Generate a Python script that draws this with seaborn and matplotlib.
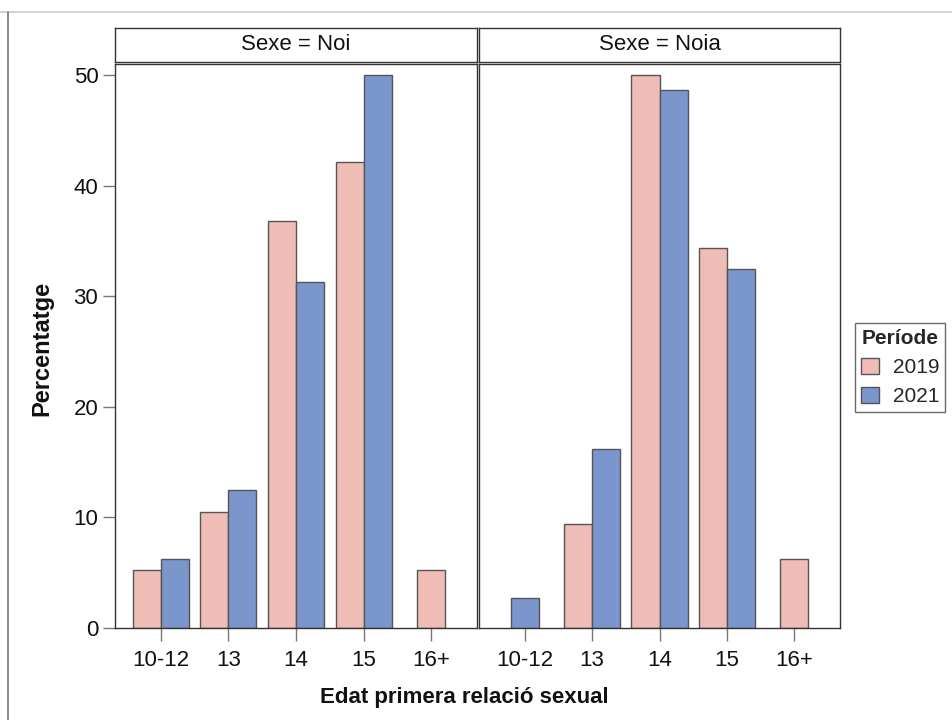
import matplotlib
matplotlib.use("Agg")
import matplotlib.pyplot as plt
import seaborn as sns
import pandas as pd
import numpy as np
from matplotlib.lines import Line2D
from matplotlib.patches import Patch

# ---- data ----
categories = ["10-12", "13", "14", "15", "16+"]
periods = ["2019", "2021"]
sexes = ["Noi", "Noia"]
noi_2019 = [5.26, 10.53, 36.84, 42.11, 5.26]
noi_2021 = [6.25, 12.5, 31.25, 50.0, np.nan]
noia_2019 = [np.nan, 9.375, 50.0, 34.375, 6.25]
noia_2021 = [2.70, 16.22, 48.65, 32.43, np.nan]
y_ticks = [0, 10, 20, 30, 40, 50]

rows = []
for sexe, s19, s21 in [("Noi", noi_2019, noi_2021), ("Noia", noia_2019, noia_2021)]:
    for c, a, b in zip(categories, s19, s21):
        rows.append({"Sexe": sexe, "Edat": c, "Període": "2019", "Pct": a})
        rows.append({"Sexe": sexe, "Edat": c, "Període": "2021", "Pct": b})
df = pd.DataFrame(rows).dropna()
counts = df.groupby(["Sexe", "Edat"])["Pct"].transform("count")
df_pair = df[counts == 2]
df_single = df[counts == 1]

palette = {"2019": "#EFBDB6", "2021": "#7B96CC"}
edge = "#555555"

sns.set_style("white")
plt.rcParams["font.family"] = ["Liberation Sans", "DejaVu Sans"]

W, H = 952, 720
fig = plt.figure(figsize=(W / 100, H / 100), dpi=100)

def fx(px):
    return px / W

def fy(py):
    return 1 - py / H

panels = [(115, 477), (479, 840)]
top, bottom = 64, 628
strip_top, strip_bot = 28, 62
fs = 16

axes = []
for i, (sexe, (x0, x1)) in enumerate(zip(sexes, panels)):
    ax = fig.add_axes([fx(x0), fy(bottom), fx(x1) - fx(x0), fy(top) - fy(bottom)])
    axes.append(ax)
    sns.barplot(data=df_pair[df_pair["Sexe"] == sexe], x="Edat", y="Pct", hue="Període",
                order=categories, hue_order=periods, palette=palette, width=0.83,
                saturation=1, edgecolor=edge, linewidth=1.0, legend=False, ax=ax, errorbar=None)
    sns.barplot(data=df_single[df_single["Sexe"] == sexe], x="Edat", y="Pct", hue="Període",
                order=categories, hue_order=periods, palette=palette, width=0.415,
                saturation=1, dodge=False, edgecolor=edge, linewidth=1.0, legend=False, ax=ax,
                errorbar=None)
    ax.set_xlim(-0.675, 4.675)
    ax.set_ylim(0, 51)
    ax.set_yticks(y_ticks)
    ax.set_xlabel("")
    ax.set_ylabel("")
    for sp in ax.spines.values():
        sp.set_visible(True)
        sp.set_color("#333333")
        sp.set_linewidth(1.0)
    ax.tick_params(axis="x", bottom=True, length=9, width=1, color="#777777", pad=7,
                   labelsize=fs, direction="out", labelcolor="#111111")
    if i == 0:
        ax.tick_params(axis="y", left=True, length=9, width=1, color="#777777", labelsize=fs,
                       pad=3, labelcolor="#111111")
    else:
        ax.tick_params(axis="y", left=False, labelleft=False)
    # strip header
    sax = fig.add_axes([fx(x0), fy(strip_bot), fx(x1) - fx(x0), fy(strip_top) - fy(strip_bot)])
    sax.set_xticks([]); sax.set_yticks([])
    for sp in sax.spines.values():
        sp.set_visible(True)
        sp.set_color("#333333")
        sp.set_linewidth(1.0)
    sax.text(0.5, 0.52, f"Sexe = {sexe}", ha="center", va="center", fontsize=fs,
             color="#111111", transform=sax.transAxes)

fig.text(fx(464), fy(697), "Edat primera relació sexual", ha="center", va="center",
         fontsize=16, fontweight="bold", color="#111111")
fig.text(fx(42), fy(348), "Percentatge", ha="center", va="center", rotation=90,
         fontsize=17, fontweight="bold", color="#111111")

handles = [Patch(facecolor=palette[p], edgecolor=edge, linewidth=1.0, label=p) for p in periods]
leg = fig.legend(handles=handles, title="Període", loc="upper left",
                 bbox_to_anchor=(fx(855), fy(323)), frameon=True, fontsize=15,
                 title_fontsize=15, handlelength=0.85, handleheight=0.85, handletextpad=0.65,
                 borderpad=0.3, labelspacing=0.45, borderaxespad=0, fancybox=False)
leg.get_title().set_fontweight("bold")
leg.get_frame().set_edgecolor("#444444")
leg.get_frame().set_linewidth(1.0)

# outer screenshot frame
fig.add_artist(Line2D([0, 1], [fy(11.5), fy(11.5)], transform=fig.transFigure, color="#cccccc", lw=1.2))
fig.add_artist(Line2D([fx(7.5), fx(7.5)], [0, fy(11.5)], transform=fig.transFigure, color="#777777", lw=1.2))

fig.savefig("out.png", dpi=100)
